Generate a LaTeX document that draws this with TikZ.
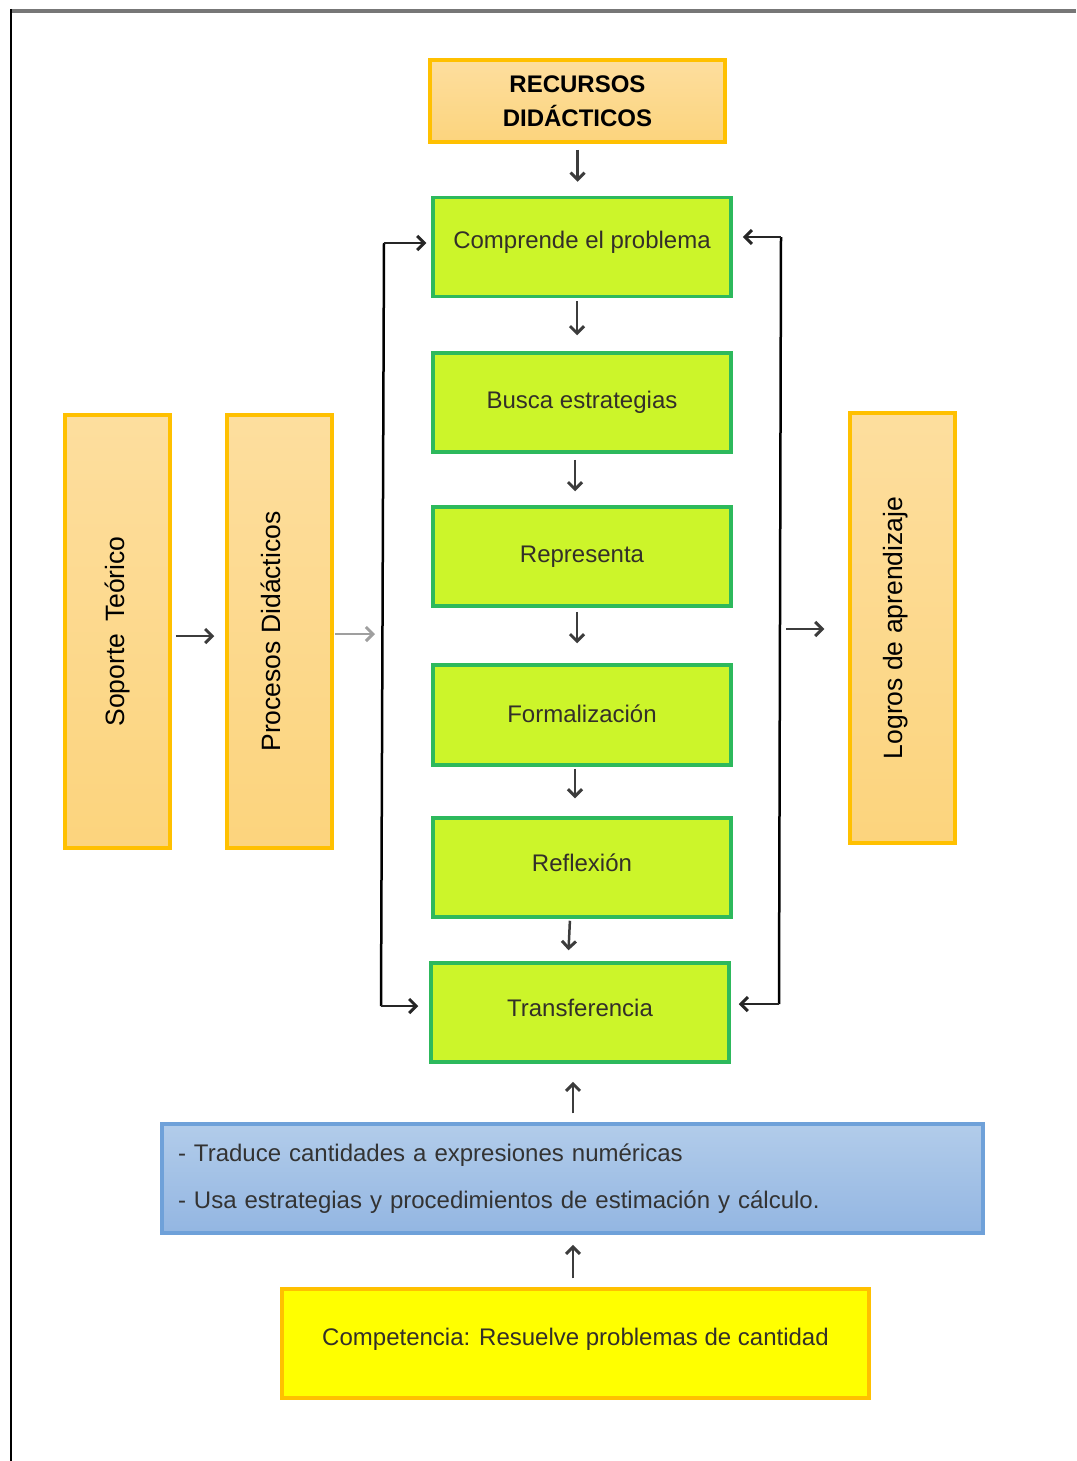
\documentclass[tikz,border=0pt]{standalone}
\usepackage{fontspec}
\setmainfont{Liberation Sans}
\usetikzlibrary{arrows.meta,calc}
\definecolor{orfillA}{HTML}{FDDE9E}
\definecolor{orfillB}{HTML}{FCD47D}
\definecolor{orline}{HTML}{FFC000}
\definecolor{grfill}{HTML}{CCF52A}
\definecolor{grline}{HTML}{2DB95C}
\definecolor{blfillA}{HTML}{B2CCEA}
\definecolor{blfillB}{HTML}{93B6E2}
\definecolor{blline}{HTML}{6FA1D9}
\definecolor{yefill}{HTML}{FFFF00}
\definecolor{arrcol}{HTML}{3C3C3C}
\definecolor{framecol}{HTML}{777777}
\begin{document}
\begin{tikzpicture}[x=1pt,y=-1pt,
  orbox/.style={draw=orline, line width=3.5pt, top color=orfillA, bottom color=orfillB, inner sep=0pt, text=black},
  grbox/.style={draw=grline, line width=3.5pt, fill=grfill, inner sep=0pt, minimum width=298pt, minimum height=99pt, font=\fontsize{24}{28}\selectfont, text=black!85!olive},
  arr/.style={draw=arrcol, line width=2.5pt, -{Straight Barb[length=7pt,width=14pt,line width=3pt]}},
  loopline/.style={draw=black, line width=2.5pt}]
\useasboundingbox (0,0) rectangle (1076,1461);
\fill[white] (0,0) rectangle (1076,1461);
% frame
\draw[framecol, line width=4.5pt] (10,11) -- (1076,11);
\draw[black, line width=2.5pt] (11,9) -- (11,1461);

% top box
\node[orbox, minimum width=295pt, minimum height=82pt, align=center, font=\bfseries\fontsize{24}{34}\selectfont] (rec) at (577.5,101) {RECURSOS\\DIDÁCTICOS};

% green process boxes
\node[grbox] (comp) at (582,247) {\raisebox{15pt}{Comprende el problema}};
\node[grbox] (busca) at (582,402.5) {Busca estrategias};
\node[grbox] (repr) at (582,556.5) {Representa};
\node[grbox, minimum height=100pt] (form) at (582,715) {\raisebox{2pt}{Formalización}};
\node[grbox] (refl) at (582,867.5) {\raisebox{10pt}{Reflexión}};
\node[grbox] (tra) at (580,1012.5) {\raisebox{10pt}{Transferencia}};

% side boxes
\node[orbox, minimum width=105pt, minimum height=433pt] (sop) at (117.5,631.5) {\rotatebox{90}{\fontsize{26.5}{30}\selectfont Soporte\, Teórico}};
\node[orbox, minimum width=105pt, minimum height=433pt] (proc) at (279.5,631.5) {\hspace*{-18pt}\rotatebox{90}{\fontsize{26.5}{30}\selectfont Procesos Didácticos}};
\node[orbox, minimum width=105pt, minimum height=430pt] (logr) at (902.5,628) {\hspace*{-14pt}\rotatebox{90}{\fontsize{26.5}{30}\selectfont Logros de aprendizaje}};

% bottom boxes
\node[draw=blline, line width=3.5pt, top color=blfillA, bottom color=blfillB, minimum width=821pt, minimum height=109pt, inner xsep=16pt, text width=789pt, align=left, font=\fontsize{24}{47}\selectfont, text=black!80] (blue) at (572.5,1178.5) {- Traduce cantidades a expresiones numéricas\\- Usa estrategias y procedimientos de estimación y cálculo.};
\node[draw=orline, line width=3.5pt, fill=yefill, minimum width=587pt, minimum height=109pt, inner sep=0pt, font=\fontsize{24}{28}\selectfont, text=black!85!olive] (yel) at (575.5,1343.5) {\raisebox{14pt}{Competencia: Resuelve problemas de cantidad}};

% vertical flow arrows
\draw[arr, shorten <=6pt, shorten >=14pt] (rec.south) -- (rec.south |- comp.north);
\draw[arr, shorten <=3pt, shorten >=16pt] ([xshift=-5pt]comp.south) -- ([xshift=-5pt]busca.north);
\draw[arr, shorten <=6pt, shorten >=14pt] ([xshift=-7pt]busca.south) -- ([xshift=-7pt]repr.north);
\draw[arr, shorten <=4pt, shorten >=20pt] ([xshift=-5pt]repr.south) -- ([xshift=-5pt]form.north);
\draw[arr, shorten <=2pt, shorten >=18pt] ([xshift=-7pt]form.south) -- ([xshift=-7pt]refl.north);
\draw[arr, shorten <=2pt, shorten >=11pt] ([xshift=-12pt]refl.south) -- ([xshift=-12pt]tra.north);

% upward arrows
\draw[arr, shorten <=9pt, shorten >=18pt] (blue.north -| 573,0) -- (tra.south -| 573,0);
\draw[arr, shorten <=9pt, shorten >=10pt] (yel.north -| 573,0) -- (blue.south -| 573,0);

% side arrows
\draw[arr, shorten <=4pt, shorten >=11pt] ([yshift=-4.5pt]sop.east) -- ([yshift=-4.5pt]proc.west);
\coordinate (lt) at (384,243);
\coordinate (lb) at (381,1006);
\coordinate (lm) at (383,634);
\draw[arr, draw=gray!75, shorten <=1pt, shorten >=8pt] ([yshift=-2.5pt]proc.east) -- (lm);
\draw[loopline] (lt) -- (lb);
\draw[arr, draw=black!85, shorten >=5pt] (lt) -- ([yshift=4pt]comp.west);
\draw[arr, draw=black!85, shorten >=11pt] (lb) -- ([yshift=6.5pt]tra.west);

\coordinate (rt) at (781,237);
\coordinate (rb) at (779,1004);
\coordinate (rm) at (780,629);
\draw[loopline] (rt) -- (rb);
\draw[arr, draw=black!85, shorten >=10pt] (rt) -- ([yshift=10pt]comp.east);
\draw[arr, draw=black!85, shorten >=8pt] (rb) -- ([yshift=8.5pt]tra.east);
\draw[arr, shorten <=6pt, shorten >=24pt] (rm) -- (rm -| logr.west);
\end{tikzpicture}
\end{document}
